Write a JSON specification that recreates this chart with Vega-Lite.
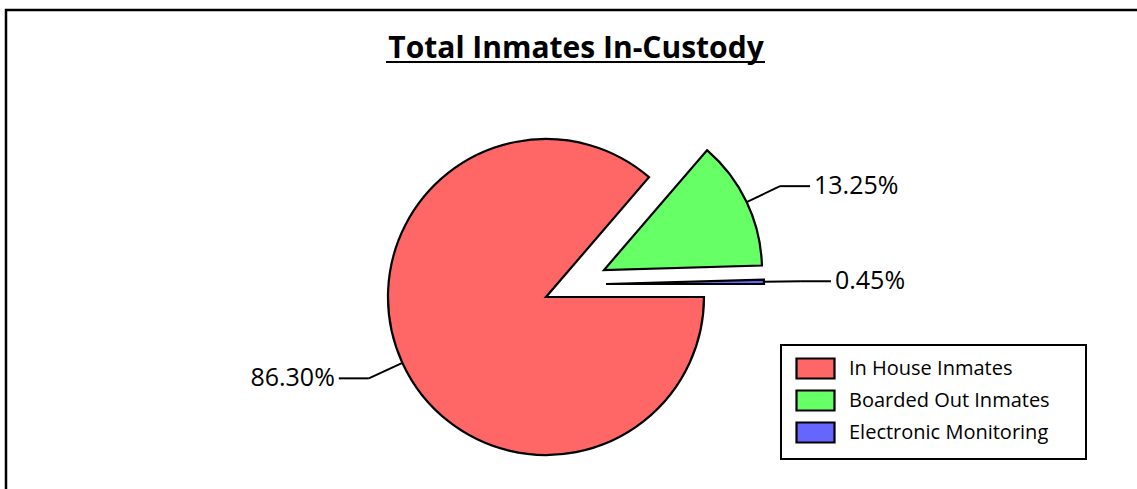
{
  "$schema": "https://vega.github.io/schema/vega-lite/v6.json",
  "width": 1140,
  "height": 490,
  "autosize": {"type": "none"},
  "padding": {"left": 6, "top": 10, "right": 0, "bottom": 0},
  "background": "white",
  "config": {"view": {"stroke": "black", "strokeWidth": 2.5}, "font": "Open Sans"},
  "title": {"text": "Total Inmates In-Custody", "font": "Open Sans", "fontSize": 30, "fontWeight": "bold", "color": "black", "anchor": "middle", "frame": "group", "baseline": "alphabetic", "offset": -78},
  "data": {"values": [
    {"cat": "In House Inmates", "value": 86.30},
    {"cat": "Boarded Out Inmates", "value": 13.25},
    {"cat": "Electronic Monitoring", "value": 0.45}
  ]},
  "transform": [
    {"stack": "value", "groupby": [], "sort": [{"field": "value", "order": "descending"}], "as": ["s", "e"]},
    {"calculate": "PI/2 + PI*(datum.s+datum.e)/100", "as": "a"},
    {"calculate": "datum.cat==='Boarded Out Inmates' ? 58/158 : datum.cat==='Electronic Monitoring' ? 60/158 : 0", "as": "cx"},
    {"calculate": "datum.cat==='Boarded Out Inmates' ? 27/158 : datum.cat==='Electronic Monitoring' ? 13/158 : 0", "as": "cy"},
    {"calculate": "sin(datum.a)", "as": "ux"},
    {"calculate": "cos(datum.a)", "as": "uy"},
    {"calculate": "datum.cx+datum.ux", "as": "x0"},
    {"calculate": "datum.cy+datum.uy", "as": "y0"},
    {"calculate": "datum.cx+1.234*datum.ux", "as": "x1"},
    {"calculate": "datum.cy+1.234*datum.uy", "as": "y1"},
    {"calculate": "datum.x1+(datum.ux<0?-1:1)*30/158", "as": "xe"},
    {"calculate": "datum.xe+(datum.ux<0?-1:1)*4/158", "as": "xl"},
    {"calculate": "format(datum.value/100,'.2%')", "as": "lbl"}
  ],
  "layer": [
    {
      "mark": {"type": "arc", "radius": 158, "stroke": "black", "strokeWidth": 2.2},
      "encoding": {
        "x": {"field": "cx", "type": "quantitative", "scale": {"domain": [-3.4177, 3.7975], "nice": false, "zero": false}, "axis": null},
        "y": {"field": "cy", "type": "quantitative", "scale": {"domain": [-1.2848, 1.8165], "nice": false, "zero": false}, "axis": null},
        "theta": {"field": "s", "type": "quantitative", "scale": {"type": "linear", "domain": [0, 100], "range": [1.5707963, 7.8539816], "zero": false, "nice": false}},
        "theta2": {"field": "e"},
        "color": {
          "field": "cat", "type": "nominal",
          "scale": {"domain": ["In House Inmates", "Boarded Out Inmates", "Electronic Monitoring"], "range": ["#FF6666", "#66FF66", "#6666FF"]},
          "legend": {
            "orient": "none", "legendX": 775, "legendY": 335,
            "title": "\u00a0", "titleOrient": "right", "titlePadding": 24, "titleFontSize": 10,
            "symbolType": "M-1.9,-1H1.9V1H-1.9Z", "symbolSize": 400, "symbolOffset": 11,
            "symbolStrokeColor": "black", "symbolStrokeWidth": 2.2, "symbolOpacity": 1,
            "labelFont": "Open Sans", "labelFontSize": 20, "labelColor": "black", "labelLimit": 400,
            "padding": 12, "strokeColor": "black", "fillColor": "white",
            "rowPadding": 3, "labelOffset": 22, "cornerRadius": 0,
            "encode": {"legend": {"update": {"strokeWidth": {"value": 2}}}}
          }
        }
      }
    },
    {
      "mark": {"type": "rule", "color": "black", "strokeWidth": 2},
      "encoding": {
        "x": {"field": "x0", "type": "quantitative", "scale": {"domain": [-3.4177, 3.7975], "nice": false, "zero": false}, "axis": null},
        "y": {"field": "y0", "type": "quantitative", "scale": {"domain": [-1.2848, 1.8165], "nice": false, "zero": false}, "axis": null},
        "x2": {"field": "x1"},
        "y2": {"field": "y1"}
      }
    },
    {
      "mark": {"type": "rule", "color": "black", "strokeWidth": 2},
      "encoding": {
        "x": {"field": "x1", "type": "quantitative", "scale": {"domain": [-3.4177, 3.7975], "nice": false, "zero": false}, "axis": null},
        "y": {"field": "y1", "type": "quantitative", "scale": {"domain": [-1.2848, 1.8165], "nice": false, "zero": false}, "axis": null},
        "x2": {"field": "xe"},
        "y2": {"field": "y1"}
      }
    },
    {
      "transform": [{"filter": "datum.ux >= 0"}],
      "mark": {"type": "text", "align": "left", "baseline": "middle", "fontSize": 25, "font": "Open Sans", "color": "black"},
      "encoding": {
        "x": {"field": "xl", "type": "quantitative", "scale": {"domain": [-3.4177, 3.7975], "nice": false, "zero": false}, "axis": null},
        "y": {"field": "y1", "type": "quantitative", "scale": {"domain": [-1.2848, 1.8165], "nice": false, "zero": false}, "axis": null},
        "text": {"field": "lbl"}
      }
    },
    {
      "transform": [{"filter": "datum.ux < 0"}],
      "mark": {"type": "text", "align": "right", "baseline": "middle", "fontSize": 25, "font": "Open Sans", "color": "black"},
      "encoding": {
        "x": {"field": "xl", "type": "quantitative", "scale": {"domain": [-3.4177, 3.7975], "nice": false, "zero": false}, "axis": null},
        "y": {"field": "y1", "type": "quantitative", "scale": {"domain": [-1.2848, 1.8165], "nice": false, "zero": false}, "axis": null},
        "text": {"field": "lbl"}
      }
    },
    {
      "mark": {"type": "rule", "color": "black", "strokeWidth": 2},
      "encoding": {
        "x": {"datum": -1.0127, "type": "quantitative", "scale": {"domain": [-3.4177, 3.7975], "nice": false, "zero": false}, "axis": null},
        "x2": {"datum": 1.386},
        "y": {"datum": 1.487, "type": "quantitative", "scale": {"domain": [-1.2848, 1.8165], "nice": false, "zero": false}, "axis": null}
      }
    }
  ]
}
